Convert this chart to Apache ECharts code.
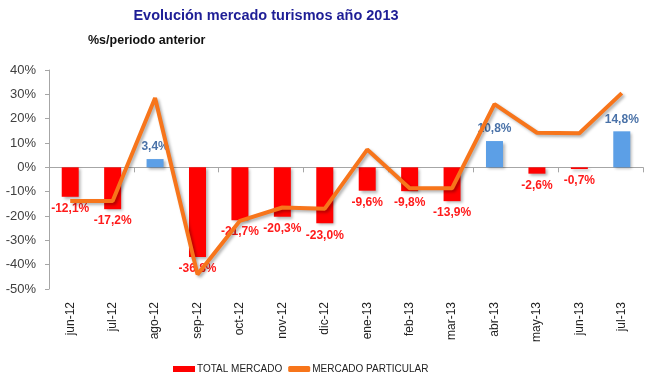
<!DOCTYPE html>
<html><head><meta charset="utf-8">
<script src="https://cdn.jsdelivr.net/npm/echarts@6/dist/echarts.min.js"></script>
<style>html,body{margin:0;padding:0;background:#fff}#c{width:650px;height:382px}</style>
</head><body><div id="c"></div>
<script>
var categories = ['jun-12','jul-12','ago-12','sep-12','oct-12','nov-12','dic-12','ene-13','feb-13','mar-13','abr-13','may-13','jun-13','jul-13'];
var totalMercado = [-12.1,-17.2,3.4,-36.8,-21.7,-20.3,-23.0,-9.6,-9.8,-13.9,10.8,-2.6,-0.7,14.8];
var mercadoParticular = [-13.8,-13.8,28.5,-44.0,-22.0,-16.5,-17.0,7.3,-8.6,-8.6,26.0,14.2,14.0,30.5];
var yTicks = {min:-50, max:40, interval:10};

function fmt(v){ return v.toFixed(1).replace('.', ',') + '%'; }

var barData = totalMercado.map(function(v){
  var pos = v >= 0;
  return {
    value: v,
    itemStyle: {color: pos ? '#5C9FE6' : '#FF0000'},
    label: {
      position: pos ? 'top' : 'bottom',
      color: pos ? '#4A72A8' : '#FF1A1A'
    }
  };
});

var chart = echarts.init(document.getElementById('c'));
chart.setOption({
  animation: false,
  title: [
    {text: 'Evolución mercado turismos año 2013', left: 261, top: 3, textAlign: 'center',
     textStyle: {fontFamily: 'Liberation Sans', fontSize: 14.5, fontWeight: 'bold', color: '#1E1E96'}},
    {text: '%s/periodo anterior', left: 83, top: 29,
     textStyle: {fontFamily: 'Liberation Sans', fontSize: 12.5, fontWeight: 'bold', color: '#111'}}
  ],
  grid: {left: 49, right: 7, top: 70, bottom: 93},
  legend: {
    bottom: 3, left: 168, itemGap: 6, itemWidth: 22, itemHeight: 6,
    textStyle: {fontFamily: 'Liberation Sans', fontSize: 10, color: '#222', padding: [0,0,0,-3]},
    data: [
      {name: 'TOTAL MERCADO', icon: 'rect', itemStyle: {color: '#FF0000'}},
      {name: 'MERCADO PARTICULAR', icon: 'roundRect', itemStyle: {color: '#F7751B'}}
    ]
  },
  xAxis: [
    {type: 'category', data: categories, position: 'bottom',
     axisLine: {show: false, onZero: false}, axisTick: {show: false},
     axisLabel: {rotate: 90, margin: 13, fontFamily: 'Liberation Sans', fontSize: 12, color: '#222'}},
    {type: 'category', data: categories, position: 'bottom',
     axisLine: {show: true, onZero: true, lineStyle: {color: '#A6A6A6', width: 1}},
     axisTick: {show: true, length: 5, inside: false, lineStyle: {color: '#A6A6A6'}},
     axisLabel: {show: false}}
  ],
  yAxis: {
    type: 'value', min: yTicks.min, max: yTicks.max, interval: yTicks.interval,
    splitLine: {show: false},
    axisLine: {show: true, lineStyle: {color: '#A6A6A6'}},
    axisTick: {show: true, length: 4, lineStyle: {color: '#A6A6A6'}},
    axisLabel: {formatter: '{value}%', margin: 13, fontFamily: 'Liberation Sans', fontSize: 13, color: '#404040'}
  },
  series: [
    {name: 'TOTAL MERCADO', type: 'bar', xAxisIndex: 0, barWidth: 17, data: barData,
     itemStyle: {shadowBlur: 3, shadowOffsetX: 2, shadowOffsetY: 2, shadowColor: 'rgba(0,0,0,0.3)'},
     label: {show: true, distance: 6, fontFamily: 'Liberation Sans', fontSize: 12, fontWeight: 'bold',
       formatter: function(p){ return fmt(p.value); }}},
    {name: 'MERCADO PARTICULAR', type: 'line', xAxisIndex: 0, data: mercadoParticular,
     symbol: 'none', z: 5,
     lineStyle: {color: '#F7751B', width: 4, shadowBlur: 3, shadowOffsetX: 2, shadowOffsetY: 2, shadowColor: 'rgba(0,0,0,0.3)'},
     itemStyle: {color: '#F7751B'}}
  ]
});
</script></body></html>
